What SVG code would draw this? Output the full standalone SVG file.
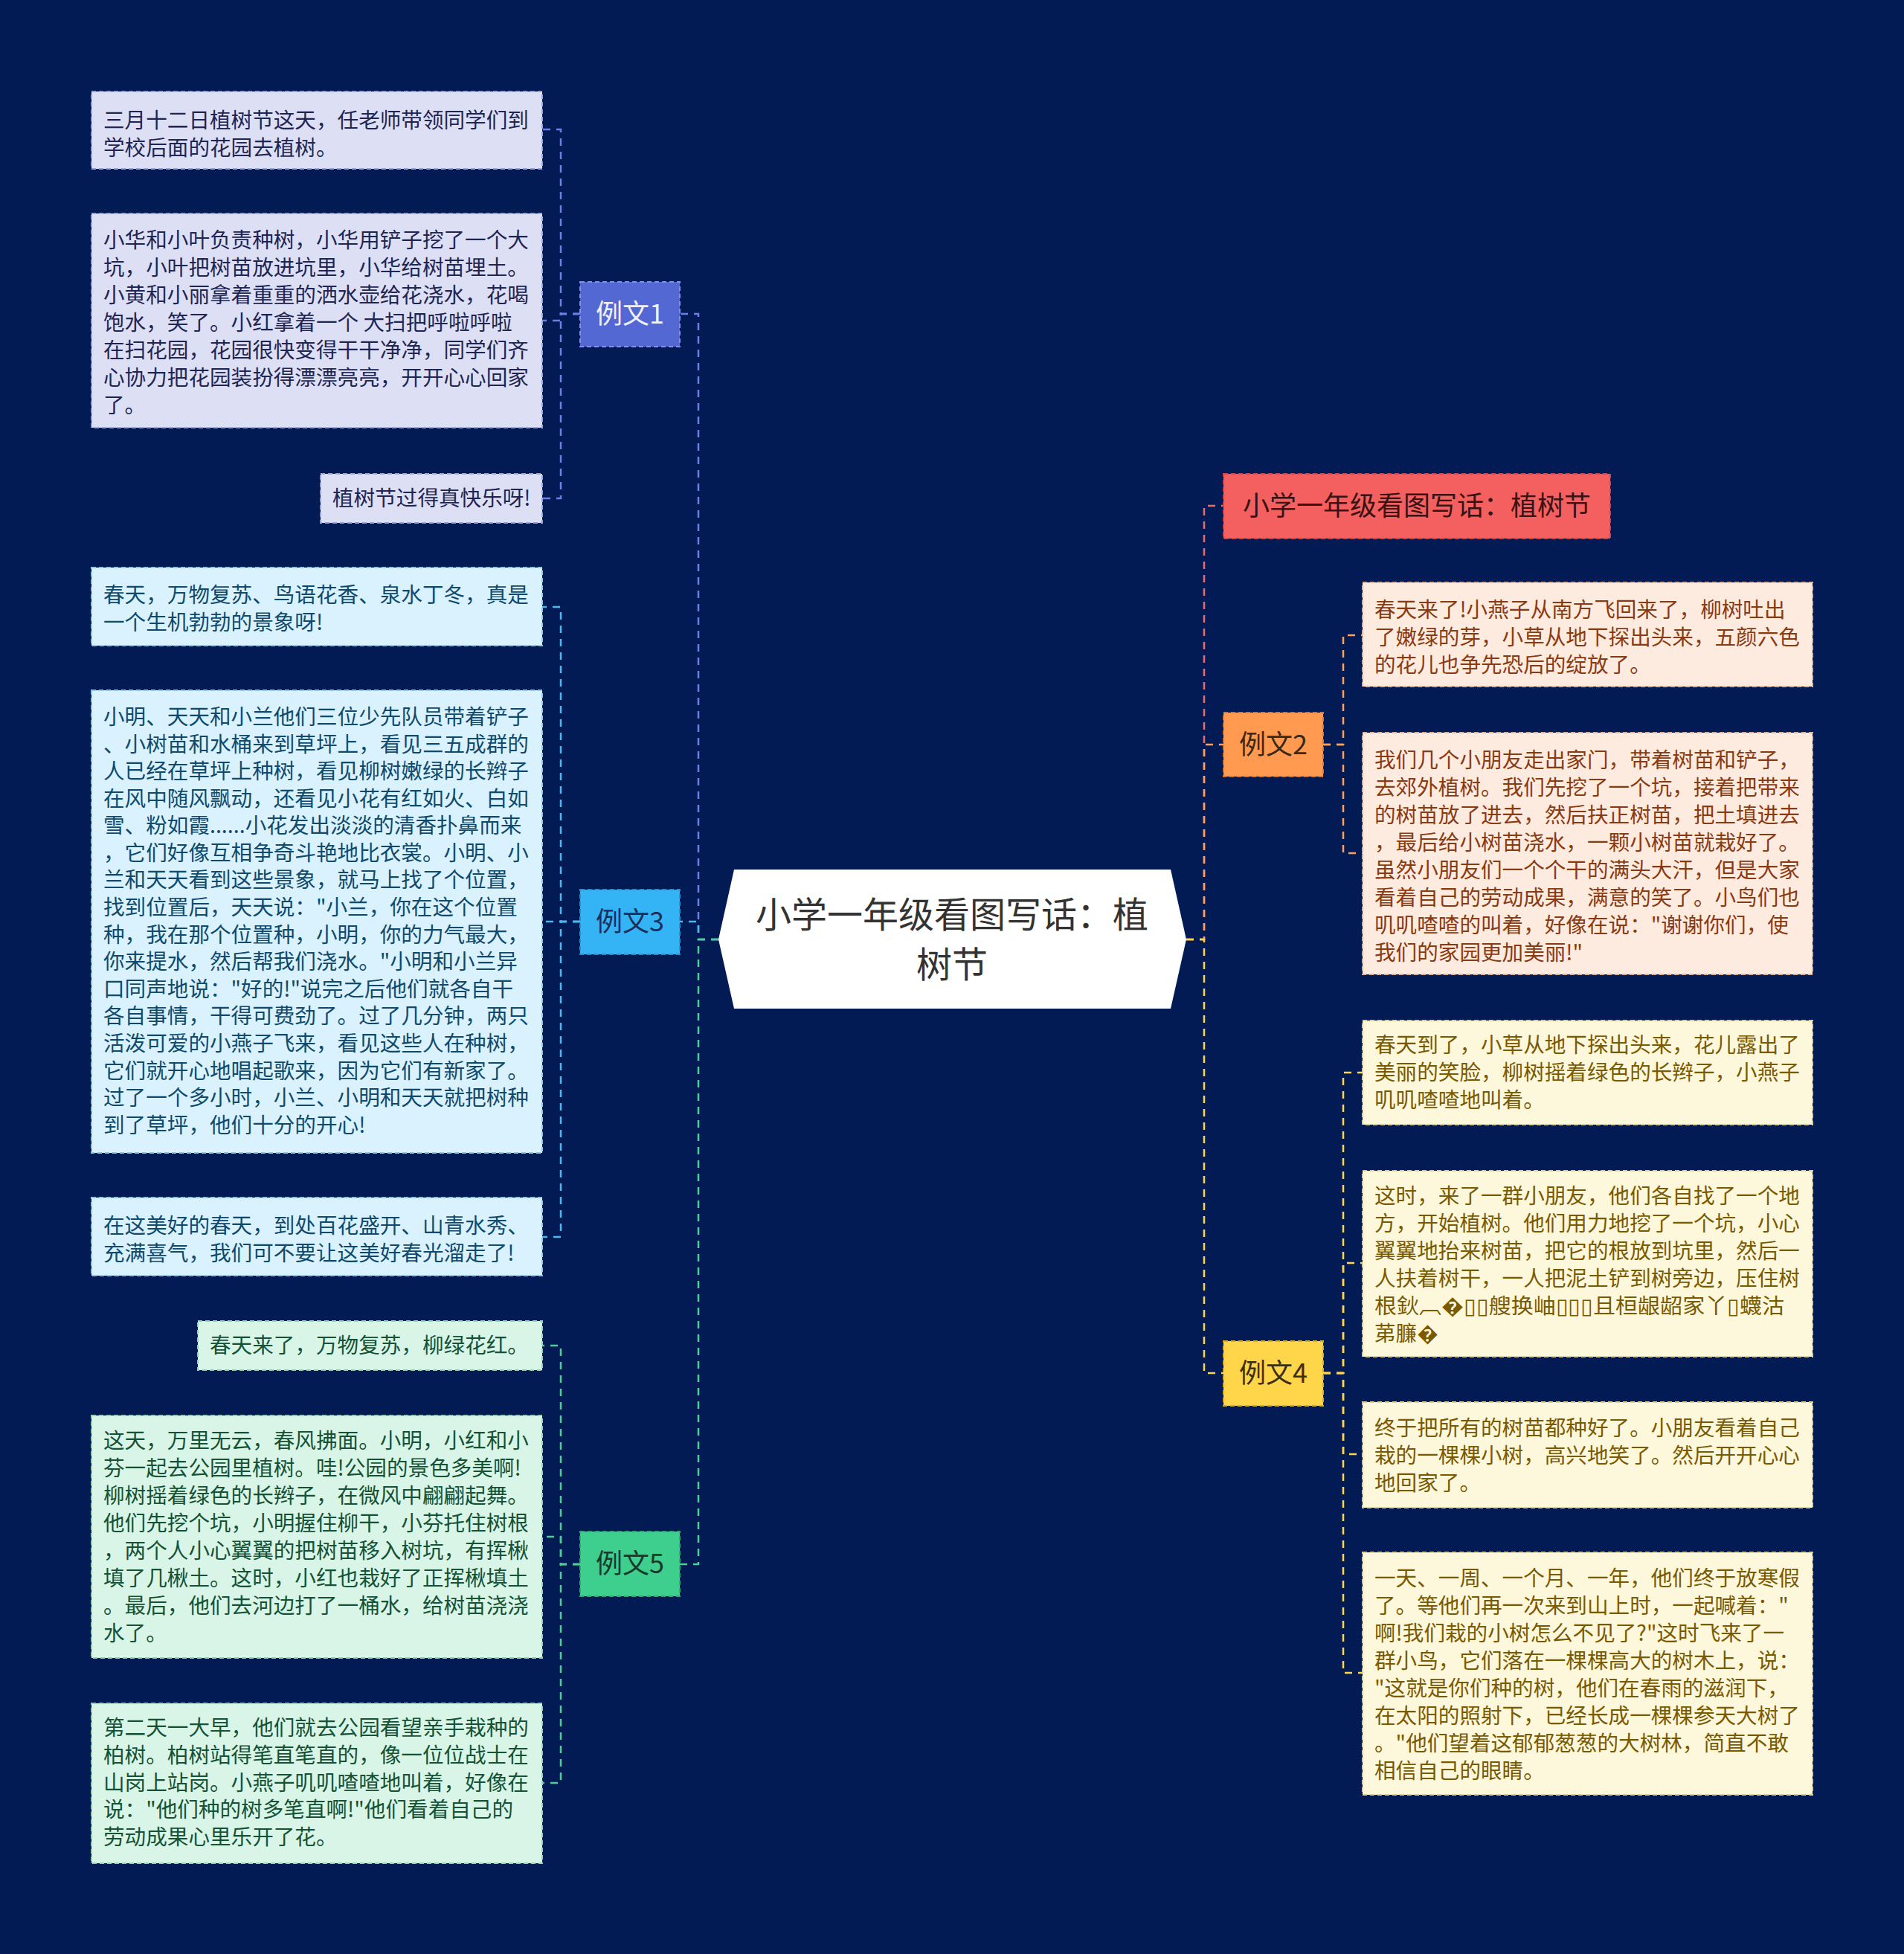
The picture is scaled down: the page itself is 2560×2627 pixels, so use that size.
<svg xmlns="http://www.w3.org/2000/svg" width="2560" height="2627" viewBox="0 0 2560 2627">
<style>
text{font-family:"Noto Sans CJK SC","Noto Sans",sans-serif;}
.t{font-size:28.6px;}
.n{font-size:36px;text-anchor:middle;}
.c{fill:none;stroke-width:2.5;stroke-dasharray:10 8;}
.b{stroke-width:2;stroke-dasharray:6 4;}
.blue{stroke:#6b7fe6;} .lb{stroke:#4cb8f0;} .gr{stroke:#4ccf95;}
.red{stroke:#f0686a;} .or{stroke:#ff9f5a;} .ye{stroke:#ffd54a;}
.b1{fill:#dde0f5;stroke:#9aa3d8;} .t1{fill:#1e2554;}
.b3{fill:#d9f2fd;stroke:#8cc7e6;} .t3{fill:#0f4a6e;}
.b5{fill:#d9f5e8;stroke:#8fd3b3;} .t5{fill:#145235;}
.b2{fill:#fdebe0;stroke:#e0b394;} .t2{fill:#8a3a10;}
.b4{fill:#fdf7dc;stroke:#e0cf8a;} .t4{fill:#7a5a00;}
</style>
<rect x="0" y="0" width="2560" height="2627" fill="#031b55"/>
<g id="connectors">
<path class="c red" d="M1595,1263 H1619 V680 H1645"/>
<path class="c or" d="M1595,1263 H1619 V1001 H1645"/>
<path class="c ye" d="M1595,1263 H1619 V1846 H1645"/>
<path class="c or" d="M1779,1001 H1806 V854 H1832"/>
<path class="c or" d="M1779,1001 H1806 V1147 H1832"/>
<path class="c ye" d="M1779,1846 H1806 V1442 H1832"/>
<path class="c ye" d="M1779,1846 H1806 V1698 H1832"/>
<path class="c ye" d="M1779,1846 H1806 V1955 H1832"/>
<path class="c ye" d="M1779,1846 H1806 V2249 H1832"/>
<path class="c blue" d="M966,1263 H939 V422 H914"/>
<path class="c lb" d="M966,1263 H939 V1239 H914"/>
<path class="c gr" d="M966,1263 H939 V2103 H914"/>
<path class="c blue" d="M780,422 H754 V174 H729"/>
<path class="c blue" d="M780,422 H754 V431 H729"/>
<path class="c blue" d="M780,422 H754 V670 H729"/>
<path class="c lb" d="M780,1239 H754 V816 H729"/>
<path class="c lb" d="M780,1239 H754 V1239 H729"/>
<path class="c lb" d="M780,1239 H754 V1663 H729"/>
<path class="c gr" d="M780,2103 H754 V1809 H729"/>
<path class="c gr" d="M780,2103 H754 V2066 H729"/>
<path class="c gr" d="M780,2103 H754 V2397 H729"/>
</g>
<g id="center">
<polygon points="966,1263 987,1169 1574,1169 1595,1263 1574,1356 987,1356" fill="#ffffff"/>
<text x="1280" y="1247" font-size="48" text-anchor="middle" fill="#333333">小学一年级看图写话：植</text>
<text x="1280" y="1314" font-size="48" text-anchor="middle" fill="#333333">树节</text>
</g>
<g id="title-node">
<rect class="b" x="1645" y="637" width="520" height="87" fill="#f45f5f" stroke="#c94848"/>
<text class="n" x="1905" y="693" fill="#3a1212">小学一年级看图写话：植树节</text>
</g>
<g id="li2">
<rect class="b" x="1645" y="958" width="134" height="86" fill="#ff9a50" stroke="#d07a3a"/>
<text class="n" x="1712" y="1014" fill="#3a2818">例文2</text>
</g>
<g id="li4">
<rect class="b" x="1645" y="1803" width="134" height="87" fill="#ffd54a" stroke="#d0ad30"/>
<text class="n" x="1712" y="1859" fill="#3a3010">例文4</text>
</g>
<g id="li1">
<rect class="b" x="780" y="379" width="134" height="87" fill="#5468d4" stroke="#8090e8"/>
<text class="n" x="847" y="435" fill="#eef0ff">例文1</text>
</g>
<g id="li3">
<rect class="b" x="780" y="1196" width="134" height="87" fill="#35b4f5" stroke="#2a90c8"/>
<text class="n" x="847" y="1252" fill="#1c2f5a">例文3</text>
</g>
<g id="li5">
<rect class="b" x="780" y="2059" width="134" height="87" fill="#3ecf8e" stroke="#2fa872"/>
<text class="n" x="847" y="2115" fill="#173a2a">例文5</text>
</g>
<g id="n2a">
<rect class="b b2" x="1832" y="783" width="605" height="140"/>
<text class="t t2" x="1848"><tspan x="1848" y="830">春天来了!小燕子从南方飞回来了，柳树吐出</tspan><tspan x="1848" y="867">了嫩绿的芽，小草从地下探出头来，五颜六色</tspan><tspan x="1848" y="904">的花儿也争先恐后的绽放了。</tspan></text>
</g>
<g id="n2b">
<rect class="b b2" x="1832" y="985" width="605" height="325"/>
<text class="t t2"><tspan x="1848" y="1032">我们几个小朋友走出家门，带着树苗和铲子，</tspan><tspan x="1848" y="1069">去郊外植树。我们先挖了一个坑，接着把带来</tspan><tspan x="1848" y="1106">的树苗放了进去，然后扶正树苗，把土填进去</tspan><tspan x="1848" y="1143">，最后给小树苗浇水，一颗小树苗就栽好了。</tspan><tspan x="1848" y="1180">虽然小朋友们一个个干的满头大汗，但是大家</tspan><tspan x="1848" y="1217">看着自己的劳动成果，满意的笑了。小鸟们也</tspan><tspan x="1848" y="1254">叽叽喳喳的叫着，好像在说："谢谢你们，使</tspan><tspan x="1848" y="1291">我们的家园更加美丽!"</tspan></text>
</g>
<g id="n4a">
<rect class="b b4" x="1832" y="1372" width="605" height="140"/>
<text class="t t4"><tspan x="1848" y="1415">春天到了，小草从地下探出头来，花儿露出了</tspan><tspan x="1848" y="1452">美丽的笑脸，柳树摇着绿色的长辫子，小燕子</tspan><tspan x="1848" y="1489">叽叽喳喳地叫着。</tspan></text>
</g>
<g id="n4b">
<rect class="b b4" x="1832" y="1574" width="605" height="250"/>
<text class="t t4"><tspan x="1848" y="1618">这时，来了一群小朋友，他们各自找了一个地</tspan><tspan x="1848" y="1655">方，开始植树。他们用力地挖了一个坑，小心</tspan><tspan x="1848" y="1692">翼翼地抬来树苗，把它的根放到坑里，然后一</tspan><tspan x="1848" y="1729">人扶着树干，一人把泥土铲到树旁边，压住树</tspan><tspan x="1848" y="1803">苐臁�</tspan></text>
<text class="t t4" x="1848" y="1766" textLength="551" lengthAdjust="spacingAndGlyphs">根鈥︹�▯▯艘换岫▯▯▯且桓龈龆家丫▯蠛沽</text>
</g>
<g id="n4c">
<rect class="b b4" x="1832" y="1885" width="605" height="142"/>
<text class="t t4"><tspan x="1848" y="1930">终于把所有的树苗都种好了。小朋友看着自己</tspan><tspan x="1848" y="1967">栽的一棵棵小树，高兴地笑了。然后开开心心</tspan><tspan x="1848" y="2004">地回家了。</tspan></text>
</g>
<g id="n4d">
<rect class="b b4" x="1832" y="2087" width="605" height="326"/>
<text class="t t4"><tspan x="1848" y="2132">一天、一周、一个月、一年，他们终于放寒假</tspan><tspan x="1848" y="2169">了。等他们再一次来到山上时，一起喊着："</tspan><tspan x="1848" y="2206">啊!我们栽的小树怎么不见了?"这时飞来了一</tspan><tspan x="1848" y="2243">群小鸟，它们落在一棵棵高大的树木上，说：</tspan><tspan x="1848" y="2280">"这就是你们种的树，他们在春雨的滋润下，</tspan><tspan x="1848" y="2317">在太阳的照射下，已经长成一棵棵参天大树了</tspan><tspan x="1848" y="2354">。"他们望着这郁郁葱葱的大树林，简直不敢</tspan><tspan x="1848" y="2391">相信自己的眼睛。</tspan></text>
</g>
<g id="n1a">
<rect class="b b1" x="123" y="123" width="606" height="104"/>
<text class="t t1"><tspan x="139" y="172">三月十二日植树节这天，任老师带领同学们到</tspan><tspan x="139" y="209">学校后面的花园去植树。</tspan></text>
</g>
<g id="n1b">
<rect class="b b1" x="123" y="287" width="606" height="288"/>
<text class="t t1"><tspan x="139" y="333">小华和小叶负责种树，小华用铲子挖了一个大</tspan><tspan x="139" y="370">坑，小叶把树苗放进坑里，小华给树苗埋土。</tspan><tspan x="139" y="407">小黄和小丽拿着重重的洒水壶给花浇水，花喝</tspan><tspan x="139" y="444">饱水，笑了。小红拿着一个 大扫把呼啦呼啦</tspan><tspan x="139" y="481">在扫花园，花园很快变得干干净净，同学们齐</tspan><tspan x="139" y="518">心协力把花园装扮得漂漂亮亮，开开心心回家</tspan><tspan x="139" y="555">了。</tspan></text>
</g>
<g id="n1c">
<rect class="b b1" x="431" y="637" width="298" height="66"/>
<text class="t t1" x="447" y="680">植树节过得真快乐呀!</text>
</g>
<g id="n3a">
<rect class="b b3" x="123" y="763" width="606" height="105"/>
<text class="t t3"><tspan x="139" y="810">春天，万物复苏、鸟语花香、泉水丁冬，真是</tspan><tspan x="139" y="847">一个生机勃勃的景象呀!</tspan></text>
</g>
<g id="n3b">
<rect class="b b3" x="123" y="928" width="606" height="622"/>
<text class="t t3"><tspan x="139" y="974">小明、天天和小兰他们三位少先队员带着铲子</tspan><tspan x="139" y="1011">、小树苗和水桶来到草坪上，看见三五成群的</tspan><tspan x="139" y="1047">人已经在草坪上种树，看见柳树嫩绿的长辫子</tspan><tspan x="139" y="1084">在风中随风飘动，还看见小花有红如火、白如</tspan><tspan x="139" y="1120">雪、粉如霞......小花发出淡淡的清香扑鼻而来</tspan><tspan x="139" y="1157">，它们好像互相争奇斗艳地比衣裳。小明、小</tspan><tspan x="139" y="1193">兰和天天看到这些景象，就马上找了个位置，</tspan><tspan x="139" y="1230">找到位置后，天天说："小兰，你在这个位置</tspan><tspan x="139" y="1267">种，我在那个位置种，小明，你的力气最大，</tspan><tspan x="139" y="1303">你来提水，然后帮我们浇水。"小明和小兰异</tspan><tspan x="139" y="1340">口同声地说："好的!"说完之后他们就各自干</tspan><tspan x="139" y="1376">各自事情，干得可费劲了。过了几分钟，两只</tspan><tspan x="139" y="1413">活泼可爱的小燕子飞来，看见这些人在种树，</tspan><tspan x="139" y="1450">它们就开心地唱起歌来，因为它们有新家了。</tspan><tspan x="139" y="1486">过了一个多小时，小兰、小明和天天就把树种</tspan><tspan x="139" y="1523">到了草坪，他们十分的开心!</tspan></text>
</g>
<g id="n3c">
<rect class="b b3" x="123" y="1610" width="606" height="105"/>
<text class="t t3"><tspan x="139" y="1658">在这美好的春天，到处百花盛开、山青水秀、</tspan><tspan x="139" y="1695">充满喜气，我们可不要让这美好春光溜走了!</tspan></text>
</g>
<g id="n5a">
<rect class="b b5" x="266" y="1776" width="463" height="66"/>
<text class="t t5" x="282" y="1819">春天来了，万物复苏，柳绿花红。</text>
</g>
<g id="n5b">
<rect class="b b5" x="123" y="1903" width="606" height="326"/>
<text class="t t5"><tspan x="139" y="1947">这天，万里无云，春风拂面。小明，小红和小</tspan><tspan x="139" y="1984">芬一起去公园里植树。哇!公园的景色多美啊!</tspan><tspan x="139" y="2021">柳树摇着绿色的长辫子，在微风中翩翩起舞。</tspan><tspan x="139" y="2058">他们先挖个坑，小明握住柳干，小芬托住树根</tspan><tspan x="139" y="2095">，两个人小心翼翼的把树苗移入树坑，有挥楸</tspan><tspan x="139" y="2132">填了几楸土。这时，小红也栽好了正挥楸填土</tspan><tspan x="139" y="2169">。最后，他们去河边打了一桶水，给树苗浇浇</tspan><tspan x="139" y="2206">水了。</tspan></text>
</g>
<g id="n5c">
<rect class="b b5" x="123" y="2290" width="606" height="215"/>
<text class="t t5"><tspan x="139" y="2333">第二天一大早，他们就去公园看望亲手栽种的</tspan><tspan x="139" y="2370">柏树。柏树站得笔直笔直的，像一位位战士在</tspan><tspan x="139" y="2407">山岗上站岗。小燕子叽叽喳喳地叫着，好像在</tspan><tspan x="139" y="2443">说："他们种的树多笔直啊!"他们看着自己的</tspan><tspan x="139" y="2480">劳动成果心里乐开了花。</tspan></text>
</g>
</svg>
